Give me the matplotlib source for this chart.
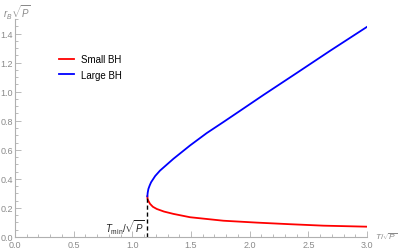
import matplotlib
matplotlib.use("Agg")
import matplotlib.pyplot as plt
from matplotlib.ticker import MultipleLocator

plt.rcParams["font.family"] = ["Liberation Sans", "DejaVu Sans"]
plt.rcParams["mathtext.fontset"] = "custom"
plt.rcParams["mathtext.rm"] = "Liberation Sans"
plt.rcParams["mathtext.it"] = "Liberation Sans:italic"

# Values
large_T = [1.128, 1.131, 1.137, 1.148, 1.160, 1.195, 1.236, 1.350, 1.492, 1.634,
           1.776, 1.912, 2.117, 2.402, 2.685, 3.0]
large_r = [0.280, 0.305, 0.331, 0.355, 0.377, 0.420, 0.457, 0.538, 0.630, 0.715,
           0.791, 0.865, 0.977, 1.129, 1.281, 1.446]

small_T = [1.128, 1.130, 1.137, 1.151, 1.175, 1.208, 1.270, 1.350, 1.492, 1.776,
           2.061, 2.344, 2.628, 3.0]
small_r = [0.280, 0.262, 0.248, 0.228, 0.208, 0.193, 0.175, 0.159, 0.136, 0.112,
           0.099, 0.088, 0.078, 0.071]

T_min = 1.128
r_min = 0.280

gray = "#8a8a8a"

fig = plt.figure(figsize=(3.99, 2.53), dpi=100)
ax = fig.add_axes([15 / 399, 1 - 238 / 253, (367 - 15) / 399, (238 - 20) / 253])

ax.plot(small_T, small_r, color="#ff0000", lw=1.3, label="Small BH")
ax.plot(large_T, large_r, color="#0000ff", lw=1.3, label="Large BH")
ax.plot([T_min, T_min], [0, r_min], color="black", lw=1.0, ls=(0, (3, 2)))

ax.set_xlim(0, 3.0)
ax.set_ylim(0, 1.5)

# Mathematica-like axes
for s in ["top", "right"]:
    ax.spines[s].set_visible(False)
for s in ["left", "bottom"]:
    ax.spines[s].set_color("#b0b0b0")
    ax.spines[s].set_linewidth(0.8)

ax.xaxis.set_major_locator(MultipleLocator(0.5))
ax.xaxis.set_minor_locator(MultipleLocator(0.1))
ax.yaxis.set_major_locator(MultipleLocator(0.2))
ax.yaxis.set_minor_locator(MultipleLocator(0.05))
ax.tick_params(which="both", direction="in", color="#b0b0b0", labelcolor=gray,
               labelsize=6.5, width=0.6)
ax.tick_params(which="major", length=4)
ax.tick_params(axis="y", which="major", pad=1.5)
ax.tick_params(axis="x", which="major", pad=2.5)
ax.tick_params(which="minor", length=2)
ax.yaxis.set_major_formatter(plt.FuncFormatter(lambda v, p: f"{v:.1f}"))
ax.xaxis.set_major_formatter(plt.FuncFormatter(lambda v, p: f"{v:.1f}"))

ax.legend(loc="upper left", bbox_to_anchor=(0.1, 0.88), frameon=False,
          fontsize=7, handlelength=1.5, handletextpad=0.8, labelspacing=0.6)

ax.text(T_min - 0.02, 0.01, r"$T_{\rm min}/\sqrt{P}$", ha="right", va="bottom",
        fontsize=7, color="#222222")

fig.text(3 / 399, 1 - 13 / 253, r"$r_B\sqrt{P}$", ha="left", va="center",
         fontsize=7, color=gray)
fig.text(375 / 399, 1 - 237 / 253, r"$T/\sqrt{P}$", ha="left", va="center",
         fontsize=6, color=gray)

fig.savefig("out.png", dpi=100)
